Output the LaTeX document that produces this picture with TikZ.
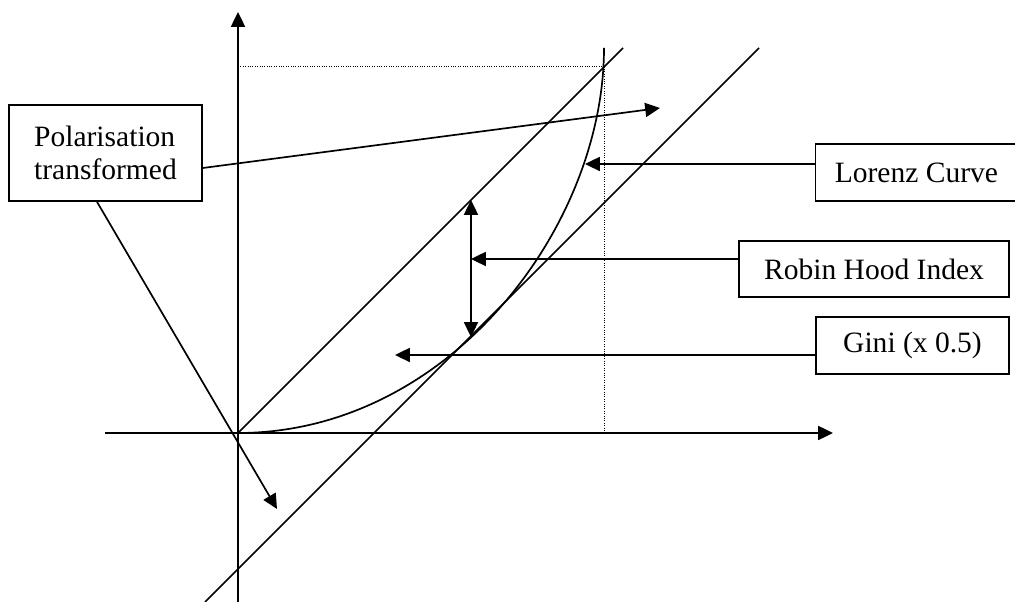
\documentclass[tikz,border=0pt]{standalone}
\usepackage{fontspec}
\setmainfont{Liberation Serif}
\usetikzlibrary{arrows.meta}
\tikzset{
  box/.style={draw, line width=1.2pt, minimum height=1.425cm, inner sep=0pt, font=\fontsize{21}{24}\selectfont},
  guide/.style={densely dotted, line width=0.7pt},
  >={Triangle[length=3.7mm,width=3.5mm]}
}

\begin{document}
\begin{tikzpicture}[line width=1.2pt]
  \useasboundingbox (-5.95,-4.225) rectangle (19.425,10.825);

  \coordinate (O) at (0,0);
  \coordinate (T) at (9.15,9.15);
  \coordinate (xl) at (-3.325,0);
  \coordinate (xr) at (14.875,0);
  \coordinate (yb) at (0,-4.225);
  \coordinate (yt) at (0,10.525);

  \draw[->] (xl) -- (xr);
  \draw[->] (yb) -- (yt);
  \draw[guide] (0,9.15) -- (T) -- (9.15,0);

  \draw (O) -- (9.625,9.625);
  \draw (-0.825,-4.225) -- (13.025,9.625);
  \draw (O) .. controls (5.25,0) and (9.15,5.125) .. (9.15,9.625);

  \node[box, minimum width=4.825cm, minimum height=2.4cm, align=left] (pol) at (-3.3125,7.0) {Polarisation\\transformed};
  \node[box, minimum width=5.05cm] (lor) at (16.96,6.5125) {Lorenz Curve};
  \node[box, minimum width=6.75cm, minimum height=1.4cm] (rhi) at (15.9,4.1) {Robin Hood Index};
  \node[box, minimum width=4.825cm] (gin) at (16.8625,2.1875) {Gini (x 0.5)};

  \coordinate (lc) at (8.675,6.725);
  \coordinate (rh) at (5.825,4.35);
  \coordinate (rtop) at (5.825,5.825);
  \coordinate (rbot) at (5.825,2.4);
  \coordinate (gi) at (3.925,1.95);
  \coordinate (pt1) at (10.55,8.125);
  \coordinate (pt2) at (0.975,-1.9);

  \draw[->] (lor.west |- lc) -- (lc);
  \draw[->] (rhi.west |- rh) -- (rh);
  \draw[<->] (rbot) -- (rtop);
  \draw[->] (gin.west |- gi) -- (gi);
  \draw[->] ([yshift=-0.375cm]pol.east) -- (pt1);
  \draw[->] ([xshift=-0.2125cm]pol.south) -- (pt2);
\end{tikzpicture}
\end{document}
